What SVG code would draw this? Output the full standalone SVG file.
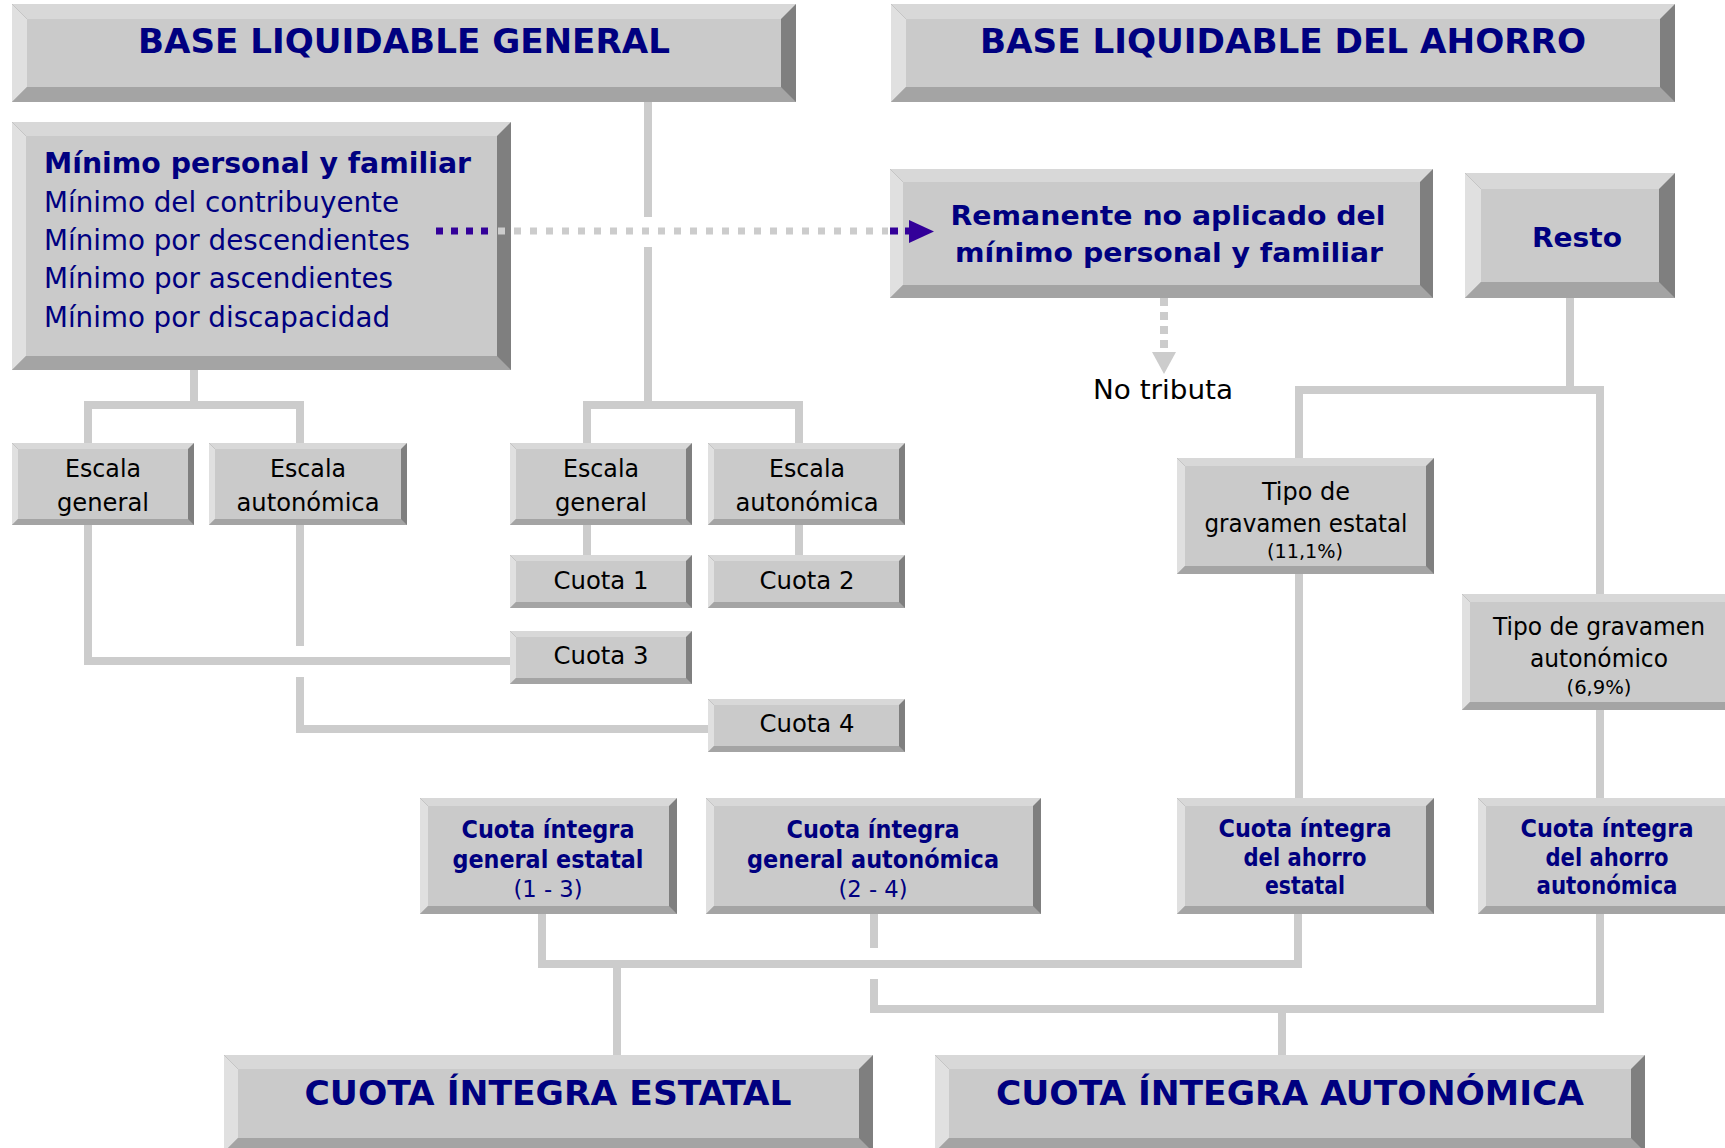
<svg xmlns="http://www.w3.org/2000/svg" width="1725" height="1148" viewBox="0 0 1725 1148">
<style>
.base{fill:#7f7f7f}
.bb{fill:#a4a4a4}
.bt{fill:#d8d8d8}
.bl{fill:#e0e0e0}
.face{fill:#cacaca}
text{font-family:"DejaVu Sans Condensed","DejaVu Sans",sans-serif;font-stretch:condensed}
.ttl{font-size:33px;font-weight:bold;fill:#000080;text-anchor:middle}
.nb{font-weight:bold;fill:#000080}
.nn{fill:#000080}
.bk{fill:#000000}
.c{text-anchor:middle}
.con{fill:none;stroke:#cccccc;stroke-width:8}
</style>
<rect width="1725" height="1148" fill="#ffffff"/>
<g id="nodes">
<g id="base-general">
<rect class="base" x="12" y="4" width="784" height="98"/>
<polygon class="bb" points="12,102 27,87 781,87 796,102"/>
<polygon class="bt" points="12,4 796,4 781,19 27,19"/>
<polygon class="bl" points="12,4 27,19 27,87 12,102"/>
<rect class="face" x="27" y="19" width="754" height="68"/>
<text class="ttl" x="404" y="53" textLength="532" lengthAdjust="spacingAndGlyphs">BASE LIQUIDABLE GENERAL</text>
</g>
<g id="base-ahorro">
<rect class="base" x="891" y="4" width="784" height="98"/>
<polygon class="bb" points="891,102 906,87 1660,87 1675,102"/>
<polygon class="bt" points="891,4 1675,4 1660,19 906,19"/>
<polygon class="bl" points="891,4 906,19 906,87 891,102"/>
<rect class="face" x="906" y="19" width="754" height="68"/>
<text class="ttl" x="1283" y="53" textLength="606" lengthAdjust="spacingAndGlyphs">BASE LIQUIDABLE DEL AHORRO</text>
</g>
<g id="minimo">
<rect class="base" x="12" y="122" width="499" height="248"/>
<polygon class="bb" points="12,370 26,356 497,356 511,370"/>
<polygon class="bt" points="12,122 511,122 497,136 26,136"/>
<polygon class="bl" points="12,122 26,136 26,356 12,370"/>
<rect class="face" x="26" y="136" width="471" height="220"/>
<text class="nb" x="44" y="173" font-size="28" textLength="427" lengthAdjust="spacingAndGlyphs">Mínimo personal y familiar</text>
<text class="nn" x="44" y="212" font-size="28" textLength="355" lengthAdjust="spacingAndGlyphs">Mínimo del contribuyente</text>
<text class="nn" x="44" y="250" font-size="28" textLength="366" lengthAdjust="spacingAndGlyphs">Mínimo por descendientes</text>
<text class="nn" x="44" y="288" font-size="28" textLength="349" lengthAdjust="spacingAndGlyphs">Mínimo por ascendientes</text>
<text class="nn" x="44" y="327" font-size="28" textLength="346" lengthAdjust="spacingAndGlyphs">Mínimo por discapacidad</text>
</g>
<g id="remanente">
<rect class="base" x="890" y="169" width="543" height="129"/>
<polygon class="bb" points="890,298 903,285 1420,285 1433,298"/>
<polygon class="bt" points="890,169 1433,169 1420,182 903,182"/>
<polygon class="bl" points="890,169 903,182 903,285 890,298"/>
<rect class="face" x="903" y="182" width="517" height="103"/>
<text class="nb c" x="1168" y="225" font-size="26" textLength="435" lengthAdjust="spacingAndGlyphs">Remanente no aplicado del</text>
<text class="nb c" x="1169" y="262" font-size="26" textLength="428" lengthAdjust="spacingAndGlyphs">mínimo personal y familiar</text>
</g>
<g id="resto">
<rect class="base" x="1465" y="173" width="210" height="125"/>
<polygon class="bb" points="1465,298 1481,282 1659,282 1675,298"/>
<polygon class="bt" points="1465,173 1675,173 1659,189 1481,189"/>
<polygon class="bl" points="1465,173 1481,189 1481,282 1465,298"/>
<rect class="face" x="1481" y="189" width="178" height="93"/>
<text class="nb c" x="1577" y="247" font-size="27" textLength="90" lengthAdjust="spacingAndGlyphs">Resto</text>
</g>
<g id="no-tributa">
<text class="bk c" x="1163" y="399" font-size="26" textLength="140" lengthAdjust="spacingAndGlyphs">No tributa</text>
</g>
<g id="escala-general-1">
<rect class="base" x="12" y="443" width="182" height="82"/>
<polygon class="bb" points="12,525 18,519 188,519 194,525"/>
<polygon class="bt" points="12,443 194,443 188,449 18,449"/>
<polygon class="bl" points="12,443 18,449 18,519 12,525"/>
<rect class="face" x="18" y="449" width="170" height="70"/>
<text class="bk c" x="103" y="477" font-size="25" textLength="76" lengthAdjust="spacingAndGlyphs">Escala</text>
<text class="bk c" x="103" y="511" font-size="25" textLength="92" lengthAdjust="spacingAndGlyphs">general</text>
</g>
<g id="escala-autonomica-1">
<rect class="base" x="209" y="443" width="198" height="82"/>
<polygon class="bb" points="209,525 215,519 401,519 407,525"/>
<polygon class="bt" points="209,443 407,443 401,449 215,449"/>
<polygon class="bl" points="209,443 215,449 215,519 209,525"/>
<rect class="face" x="215" y="449" width="186" height="70"/>
<text class="bk c" x="308" y="477" font-size="25" textLength="76" lengthAdjust="spacingAndGlyphs">Escala</text>
<text class="bk c" x="308" y="511" font-size="25" textLength="143" lengthAdjust="spacingAndGlyphs">autonómica</text>
</g>
<g id="escala-general-2">
<rect class="base" x="510" y="443" width="182" height="82"/>
<polygon class="bb" points="510,525 516,519 686,519 692,525"/>
<polygon class="bt" points="510,443 692,443 686,449 516,449"/>
<polygon class="bl" points="510,443 516,449 516,519 510,525"/>
<rect class="face" x="516" y="449" width="170" height="70"/>
<text class="bk c" x="601" y="477" font-size="25" textLength="76" lengthAdjust="spacingAndGlyphs">Escala</text>
<text class="bk c" x="601" y="511" font-size="25" textLength="92" lengthAdjust="spacingAndGlyphs">general</text>
</g>
<g id="escala-autonomica-2">
<rect class="base" x="708" y="443" width="197" height="82"/>
<polygon class="bb" points="708,525 714,519 899,519 905,525"/>
<polygon class="bt" points="708,443 905,443 899,449 714,449"/>
<polygon class="bl" points="708,443 714,449 714,519 708,525"/>
<rect class="face" x="714" y="449" width="185" height="70"/>
<text class="bk c" x="807" y="477" font-size="25" textLength="76" lengthAdjust="spacingAndGlyphs">Escala</text>
<text class="bk c" x="807" y="511" font-size="25" textLength="143" lengthAdjust="spacingAndGlyphs">autonómica</text>
</g>
<g id="cuota-1">
<rect class="base" x="510" y="555" width="182" height="53"/>
<polygon class="bb" points="510,608 516,602 686,602 692,608"/>
<polygon class="bt" points="510,555 692,555 686,561 516,561"/>
<polygon class="bl" points="510,555 516,561 516,602 510,608"/>
<rect class="face" x="516" y="561" width="170" height="41"/>
<text class="bk c" x="601" y="589" font-size="25" textLength="95" lengthAdjust="spacingAndGlyphs">Cuota 1</text>
</g>
<g id="cuota-2">
<rect class="base" x="708" y="555" width="197" height="53"/>
<polygon class="bb" points="708,608 714,602 899,602 905,608"/>
<polygon class="bt" points="708,555 905,555 899,561 714,561"/>
<polygon class="bl" points="708,555 714,561 714,602 708,608"/>
<rect class="face" x="714" y="561" width="185" height="41"/>
<text class="bk c" x="807" y="589" font-size="25" textLength="95" lengthAdjust="spacingAndGlyphs">Cuota 2</text>
</g>
<g id="cuota-3">
<rect class="base" x="510" y="631" width="182" height="53"/>
<polygon class="bb" points="510,684 516,678 686,678 692,684"/>
<polygon class="bt" points="510,631 692,631 686,637 516,637"/>
<polygon class="bl" points="510,631 516,637 516,678 510,684"/>
<rect class="face" x="516" y="637" width="170" height="41"/>
<text class="bk c" x="601" y="664" font-size="25" textLength="95" lengthAdjust="spacingAndGlyphs">Cuota 3</text>
</g>
<g id="cuota-4">
<rect class="base" x="708" y="699" width="197" height="53"/>
<polygon class="bb" points="708,752 714,746 899,746 905,752"/>
<polygon class="bt" points="708,699 905,699 899,705 714,705"/>
<polygon class="bl" points="708,699 714,705 714,746 708,752"/>
<rect class="face" x="714" y="705" width="185" height="41"/>
<text class="bk c" x="807" y="732" font-size="25" textLength="95" lengthAdjust="spacingAndGlyphs">Cuota 4</text>
</g>
<g id="tipo-estatal">
<rect class="base" x="1177" y="458" width="257" height="116"/>
<polygon class="bb" points="1177,574 1185,566 1426,566 1434,574"/>
<polygon class="bt" points="1177,458 1434,458 1426,466 1185,466"/>
<polygon class="bl" points="1177,458 1185,466 1185,566 1177,574"/>
<rect class="face" x="1185" y="466" width="241" height="100"/>
<text class="bk c" x="1306" y="500" font-size="25" textLength="88" lengthAdjust="spacingAndGlyphs">Tipo de</text>
<text class="bk c" x="1306" y="532" font-size="25" textLength="203" lengthAdjust="spacingAndGlyphs">gravamen estatal</text>
<text class="bk c" x="1305" y="558" font-size="20" textLength="76" lengthAdjust="spacingAndGlyphs">(11,1%)</text>
</g>
<g id="tipo-autonomico">
<rect class="base" x="1462" y="594" width="274" height="116"/>
<polygon class="bb" points="1462,710 1470,702 1728,702 1736,710"/>
<polygon class="bt" points="1462,594 1736,594 1728,602 1470,602"/>
<polygon class="bl" points="1462,594 1470,602 1470,702 1462,710"/>
<rect class="face" x="1470" y="602" width="258" height="100"/>
<text class="bk c" x="1599" y="635" font-size="25" textLength="212" lengthAdjust="spacingAndGlyphs">Tipo de gravamen</text>
<text class="bk c" x="1599" y="667" font-size="25" textLength="138" lengthAdjust="spacingAndGlyphs">autonómico</text>
<text class="bk c" x="1599" y="694" font-size="20" textLength="65" lengthAdjust="spacingAndGlyphs">(6,9%)</text>
</g>
<g id="ci-general-estatal">
<rect class="base" x="420" y="798" width="257" height="116"/>
<polygon class="bb" points="420,914 428,906 669,906 677,914"/>
<polygon class="bt" points="420,798 677,798 669,806 428,806"/>
<polygon class="bl" points="420,798 428,806 428,906 420,914"/>
<rect class="face" x="428" y="806" width="241" height="100"/>
<text class="nb c" x="548" y="838" font-size="24" textLength="173" lengthAdjust="spacingAndGlyphs">Cuota íntegra</text>
<text class="nb c" x="548" y="868" font-size="24" textLength="191" lengthAdjust="spacingAndGlyphs">general estatal</text>
<text class="nn c" x="548" y="897" font-size="23" textLength="69" lengthAdjust="spacingAndGlyphs">(1 - 3)</text>
</g>
<g id="ci-general-autonomica">
<rect class="base" x="706" y="798" width="335" height="116"/>
<polygon class="bb" points="706,914 714,906 1033,906 1041,914"/>
<polygon class="bt" points="706,798 1041,798 1033,806 714,806"/>
<polygon class="bl" points="706,798 714,806 714,906 706,914"/>
<rect class="face" x="714" y="806" width="319" height="100"/>
<text class="nb c" x="873" y="838" font-size="24" textLength="173" lengthAdjust="spacingAndGlyphs">Cuota íntegra</text>
<text class="nb c" x="873" y="868" font-size="24" textLength="252" lengthAdjust="spacingAndGlyphs">general autonómica</text>
<text class="nn c" x="873" y="897" font-size="23" textLength="69" lengthAdjust="spacingAndGlyphs">(2 - 4)</text>
</g>
<g id="ci-ahorro-estatal">
<rect class="base" x="1177" y="798" width="257" height="116"/>
<polygon class="bb" points="1177,914 1185,906 1426,906 1434,914"/>
<polygon class="bt" points="1177,798 1434,798 1426,806 1185,806"/>
<polygon class="bl" points="1177,798 1185,806 1185,906 1177,914"/>
<rect class="face" x="1185" y="806" width="241" height="100"/>
<text class="nb c" x="1305" y="837" font-size="24" textLength="173" lengthAdjust="spacingAndGlyphs">Cuota íntegra</text>
<text class="nb c" x="1305" y="866" font-size="24" textLength="123" lengthAdjust="spacingAndGlyphs">del ahorro</text>
<text class="nb c" x="1305" y="894" font-size="24" textLength="80" lengthAdjust="spacingAndGlyphs">estatal</text>
</g>
<g id="ci-ahorro-autonomica">
<rect class="base" x="1478" y="798" width="258" height="116"/>
<polygon class="bb" points="1478,914 1486,906 1728,906 1736,914"/>
<polygon class="bt" points="1478,798 1736,798 1728,806 1486,806"/>
<polygon class="bl" points="1478,798 1486,806 1486,906 1478,914"/>
<rect class="face" x="1486" y="806" width="242" height="100"/>
<text class="nb c" x="1607" y="837" font-size="24" textLength="173" lengthAdjust="spacingAndGlyphs">Cuota íntegra</text>
<text class="nb c" x="1607" y="866" font-size="24" textLength="123" lengthAdjust="spacingAndGlyphs">del ahorro</text>
<text class="nb c" x="1607" y="894" font-size="24" textLength="141" lengthAdjust="spacingAndGlyphs">autonómica</text>
</g>
<g id="cuota-integra-estatal">
<rect class="base" x="224" y="1055" width="649" height="97"/>
<polygon class="bb" points="224,1152 238,1138 859,1138 873,1152"/>
<polygon class="bt" points="224,1055 873,1055 859,1069 238,1069"/>
<polygon class="bl" points="224,1055 238,1069 238,1138 224,1152"/>
<rect class="face" x="238" y="1069" width="621" height="69"/>
<text class="ttl" x="548" y="1105" textLength="487" lengthAdjust="spacingAndGlyphs">CUOTA ÍNTEGRA ESTATAL</text>
</g>
<g id="cuota-integra-autonomica">
<rect class="base" x="935" y="1055" width="710" height="97"/>
<polygon class="bb" points="935,1152 949,1138 1631,1138 1645,1152"/>
<polygon class="bt" points="935,1055 1645,1055 1631,1069 949,1069"/>
<polygon class="bl" points="935,1055 949,1069 949,1138 935,1152"/>
<rect class="face" x="949" y="1069" width="682" height="69"/>
<text class="ttl" x="1290" y="1105" textLength="588" lengthAdjust="spacingAndGlyphs">CUOTA ÍNTEGRA AUTONÓMICA</text>
</g>
</g>
<g id="connectors">
<path class="con" d="M194 370 V405 M88 443 V405 H300 V443"/>
<path class="con" d="M648 102 V217 M648 247 V405 M587 443 V405 H799 V443"/>
<path class="con" d="M587 525 V555 M799 525 V555"/>
<path class="con" d="M88 525 V661 H510"/>
<path class="con" d="M300 525 V646 M300 677 V729 H708"/>
<path class="con" d="M1570 298 V390 M1299 458 V390 H1600 V594"/>
<path class="con" d="M1299 574 V798 M1600 710 V798"/>
<path class="con" d="M542 914 V964 H1298 V914 M617 964 V1055"/>
<path class="con" d="M874 914 V948 M874 979 V1009 H1600 V914 M1282 1009 V1055"/>
<line x1="1164" y1="298" x2="1164" y2="353" stroke="#cccccc" stroke-width="8" stroke-dasharray="8 6"/>
<polygon points="1152,352 1176,352 1164,374" fill="#cccccc"/>
<line x1="498" y1="231" x2="888" y2="231" stroke="#cccccc" stroke-width="7" stroke-dasharray="7 9"/>
<line x1="436" y1="231" x2="495" y2="231" stroke="#330099" stroke-width="7" stroke-dasharray="7 8"/>
<line x1="890" y1="231" x2="912" y2="231" stroke="#330099" stroke-width="7" stroke-dasharray="8 7"/>
<polygon points="909,220 909,243 934,231.5" fill="#330099"/>
</g>
</svg>
